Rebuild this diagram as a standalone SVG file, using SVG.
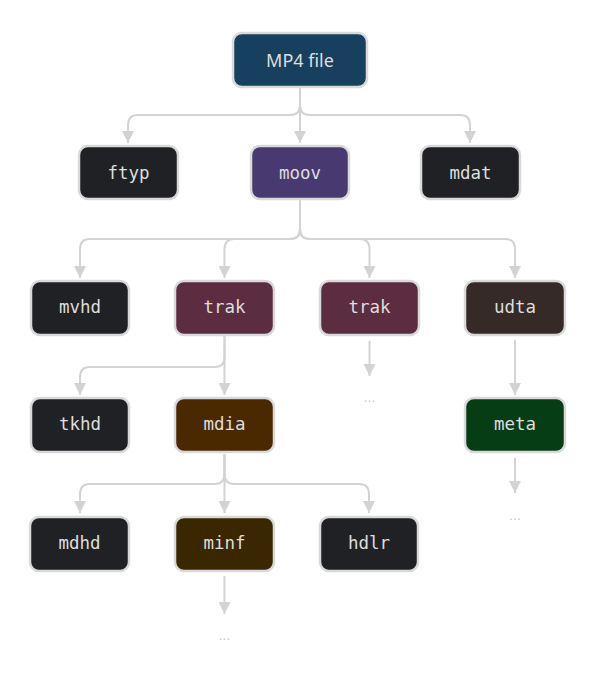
<svg xmlns="http://www.w3.org/2000/svg" width="594" height="680" viewBox="0 0 594 680">
<style>
.box{stroke:#d9d9d9;stroke-width:2.5}
.t{font-family:"DejaVu Sans Mono","Liberation Mono",monospace;font-size:17.5px;fill:#dedede;text-anchor:middle;dominant-baseline:central}
.ts{font-family:"Noto Sans","Open Sans",sans-serif;font-size:18px;fill:#dedede;text-anchor:middle;dominant-baseline:central}
.dots{font-family:"DejaVu Sans","Liberation Sans",sans-serif;font-size:12px;fill:#c8c8c8;text-anchor:middle}
.c{fill:none;stroke:#d3d3d3;stroke-width:2;marker-end:url(#ah)}
</style>
<defs>
<marker id="ah" markerUnits="userSpaceOnUse" markerWidth="12" markerHeight="12" refX="12" refY="6" orient="auto" viewBox="0 0 12 12">
<path d="M0,0 L12,6 L0,12 z" fill="#d3d3d3"/>
</marker>
</defs>
<rect width="594" height="680" fill="#ffffff"/>
<g id="connectors">
<path class="c" d="M300,88 V105 Q300,115 290,115 H138 Q128,115 128,125 V143"/>
<path class="c" d="M300,88 V143"/>
<path class="c" d="M300,88 V105 Q300,115 310,115 H460 Q470,115 470,125 V143"/>
<path class="c" d="M300,200 V229 Q300,239 290,239 H90 Q80,239 80,249 V278"/>
<path class="c" d="M300,200 V229 Q300,239 290,239 H234.5 Q224.5,239 224.5,249 V278"/>
<path class="c" d="M300,200 V229 Q300,239 310,239 H359.5 Q369.5,239 369.5,249 V278"/>
<path class="c" d="M300,200 V229 Q300,239 310,239 H505 Q515,239 515,249 V278"/>
<path class="c" d="M224.5,336 V357 Q224.5,367 214.5,367 H90 Q80,367 80,377 V395"/>
<path class="c" d="M224.5,336 V395"/>
<path class="c" d="M224.5,454 V474 Q224.5,484 214.5,484 H90 Q80,484 80,494 V513"/>
<path class="c" d="M224.5,454 V513"/>
<path class="c" d="M224.5,454 V474 Q224.5,484 234.5,484 H359 Q369,484 369,494 V513"/>
<path class="c" d="M369.5,341 V376"/>
<path class="c" d="M515,340 V395"/>
<path class="c" d="M515,458 V493"/>
<path class="c" d="M224.5,576 V614"/>
</g>
<g id="mp4"><rect class="box" x="233" y="33" width="134" height="54" rx="9" fill="#17405f"/><text class="ts" x="300" y="60">MP4 file</text></g>
<g id="ftyp"><rect class="box" x="79" y="146" width="99" height="53" rx="9" fill="#202124"/><text class="t" x="128.5" y="172.5">ftyp</text></g>
<g id="moov"><rect class="box" x="251" y="146" width="98" height="53" rx="9" fill="#483a70"/><text class="t" x="300" y="172.5">moov</text></g>
<g id="mdat"><rect class="box" x="421" y="146" width="99" height="53" rx="9" fill="#202124"/><text class="t" x="470.5" y="172.5">mdat</text></g>
<g id="mvhd"><rect class="box" x="31" y="281" width="98" height="54" rx="9" fill="#202124"/><text class="t" x="80" y="307">mvhd</text></g>
<g id="trak1"><rect class="box" x="175" y="281" width="99" height="54" rx="9" fill="#5c2c40"/><text class="t" x="224.5" y="307">trak</text></g>
<g id="trak2"><rect class="box" x="320" y="281" width="99" height="54" rx="9" fill="#5c2c40"/><text class="t" x="369.5" y="307">trak</text></g>
<g id="udta"><rect class="box" x="465" y="281" width="100" height="54" rx="9" fill="#352a27"/><text class="t" x="515" y="307">udta</text></g>
<g id="tkhd"><rect class="box" x="31" y="398" width="98" height="54" rx="9" fill="#202124"/><text class="t" x="80" y="424">tkhd</text></g>
<g id="mdia"><rect class="box" x="175" y="398" width="99" height="54" rx="9" fill="#4a2900"/><text class="t" x="224.5" y="424">mdia</text></g>
<g id="meta"><rect class="box" x="465" y="398" width="100" height="54" rx="9" fill="#063d14"/><text class="t" x="515" y="424">meta</text></g>
<g id="mdhd"><rect class="box" x="30" y="517" width="99" height="54" rx="9" fill="#202124"/><text class="t" x="79.5" y="543">mdhd</text></g>
<g id="minf"><rect class="box" x="175" y="517" width="99" height="54" rx="9" fill="#3a2700"/><text class="t" x="224.5" y="543">minf</text></g>
<g id="hdlr"><rect class="box" x="320" y="517" width="98" height="54" rx="9" fill="#202124"/><text class="t" x="369" y="543">hdlr</text></g>
<g id="dots">
<text class="dots" x="369.5" y="402">...</text>
<text class="dots" x="515" y="520">...</text>
<text class="dots" x="224.5" y="640">...</text>
</g>
</svg>
